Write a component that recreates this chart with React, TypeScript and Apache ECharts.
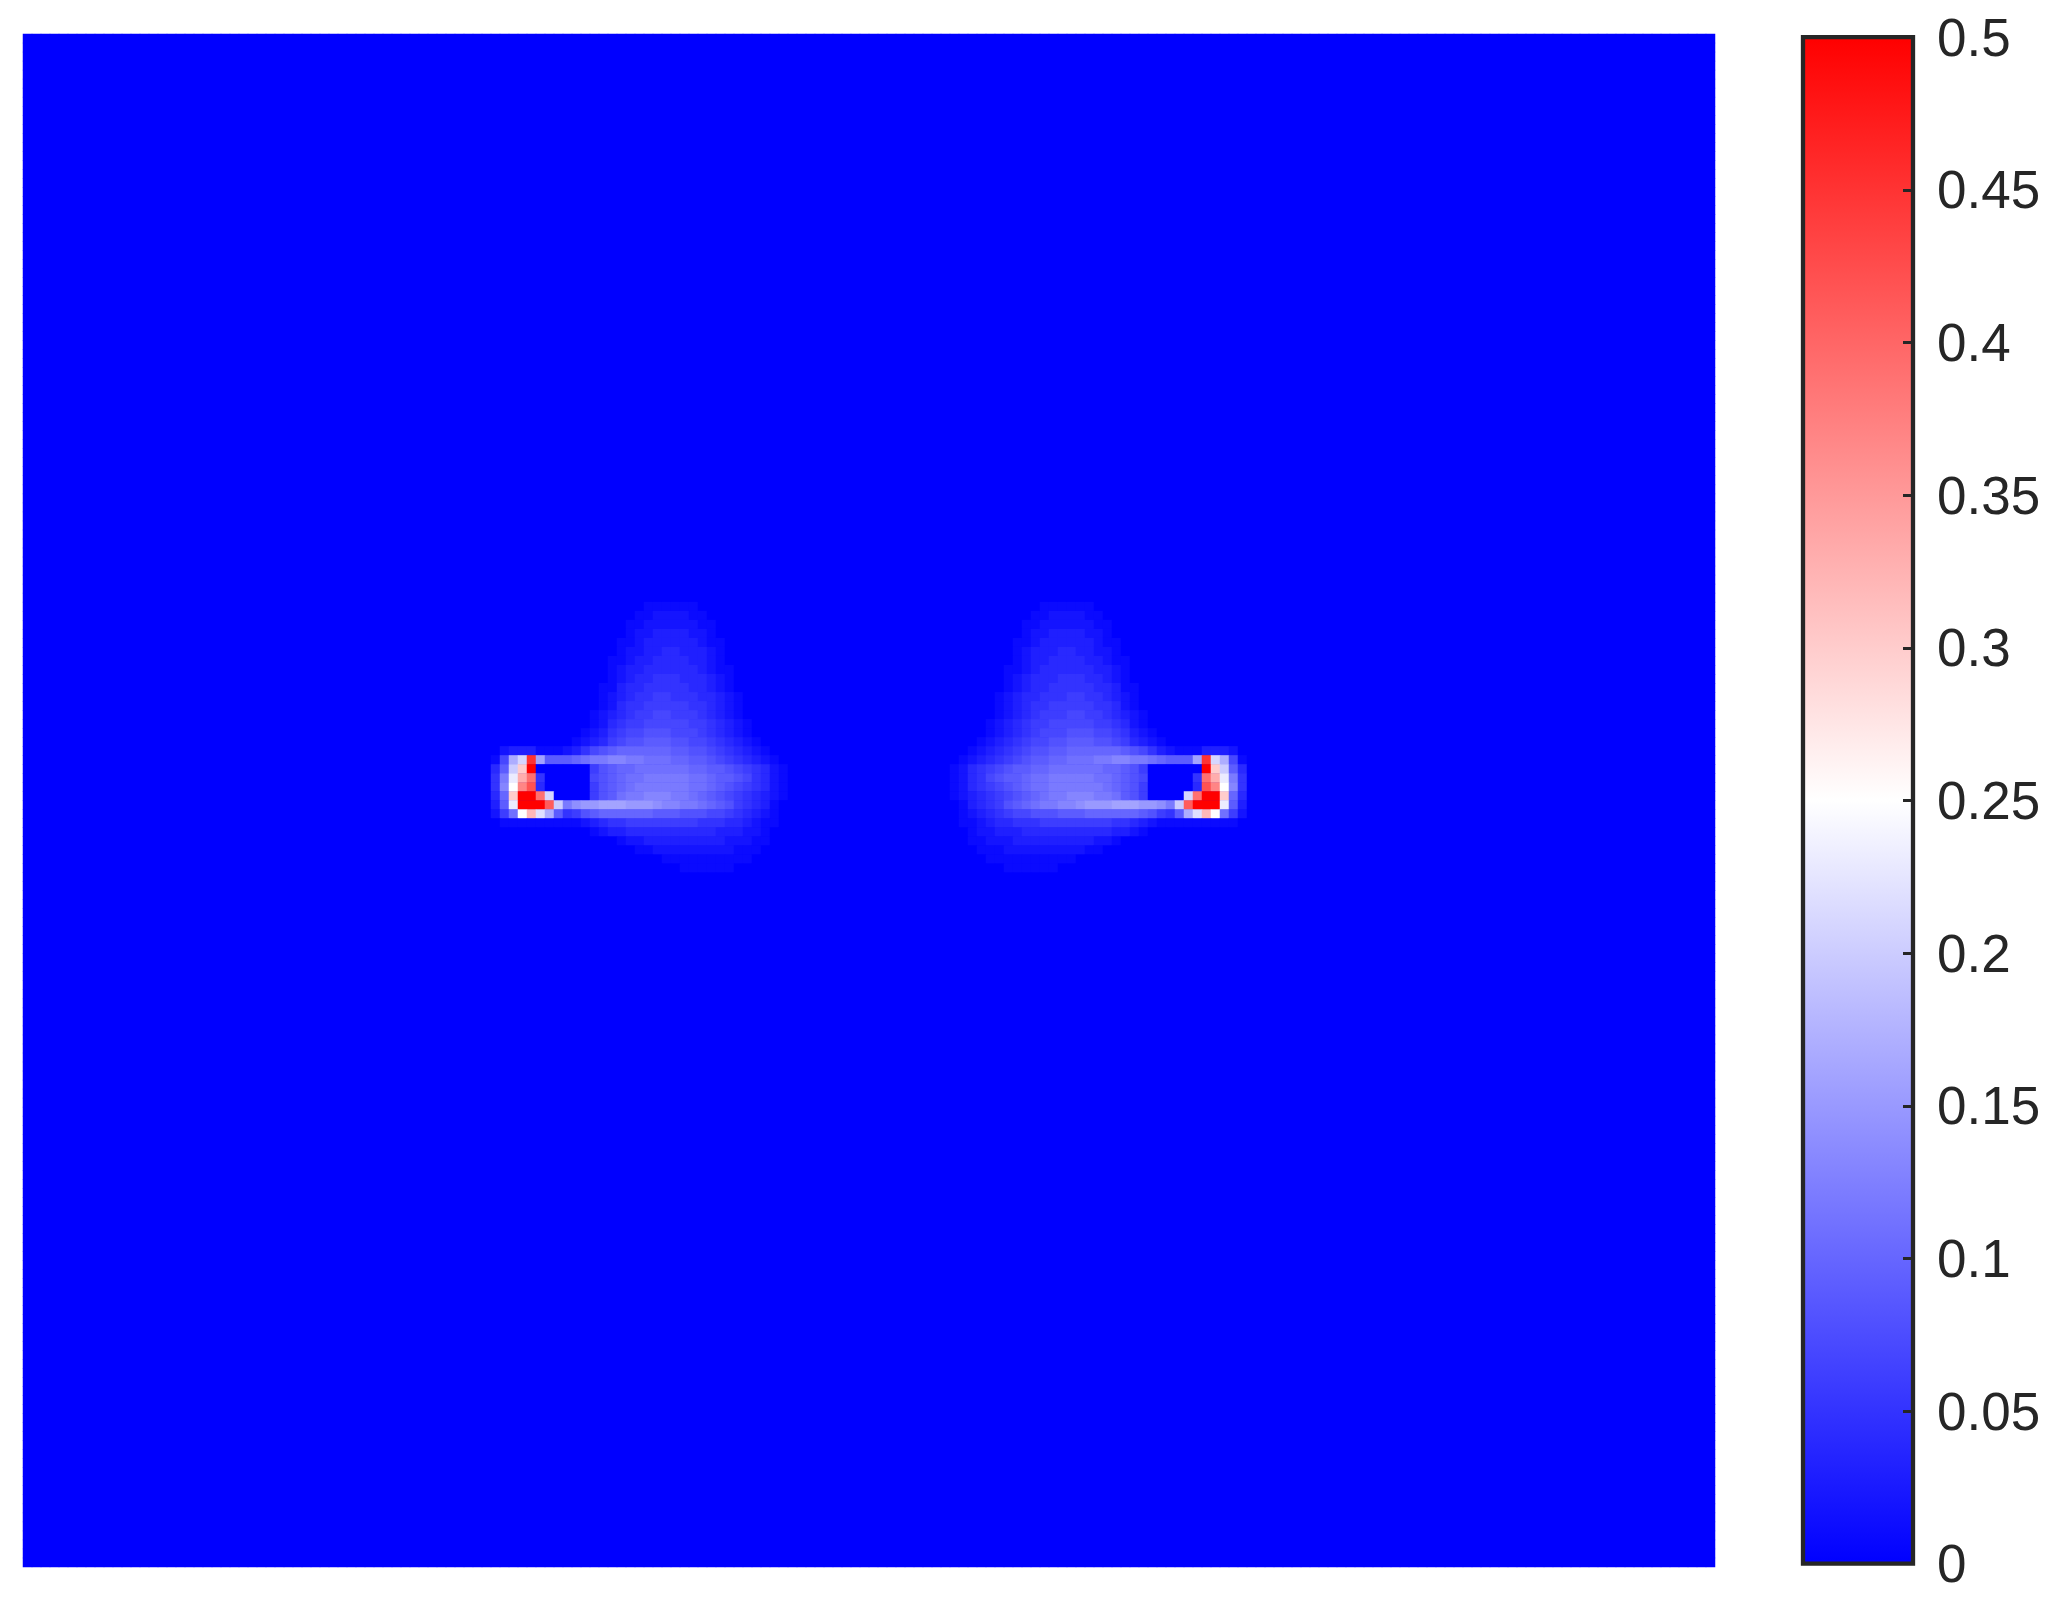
import React, { useEffect, useRef } from 'react';
import * as echarts from 'echarts';

// ---- field grid (columns x rows) ----
const gridCols = 188;
const gridRows = 170;

// non-background region, values in hundredths
const blobFirstRow = 63;
const leftBlobFirstCol = 52;
const rightBlobFirstCol = 101;

const leftBlob: number[][] = [
  [0,0,0,0,0,0,0,0,0,0,0,0,0,0,0,0,0,1,1,1,1,1,1,0,0,0,0,0,0,0,0,0,0,0,0],
  [0,0,0,0,0,0,0,0,0,0,0,0,0,0,0,0,1,1,2,2,2,2,1,1,0,0,0,0,0,0,0,0,0,0,0],
  [0,0,0,0,0,0,0,0,0,0,0,0,0,0,0,1,1,2,2,2,2,2,2,1,1,0,0,0,0,0,0,0,0,0,0],
  [0,0,0,0,0,0,0,0,0,0,0,0,0,0,0,1,2,2,3,3,3,3,2,2,1,0,0,0,0,0,0,0,0,0,0],
  [0,0,0,0,0,0,0,0,0,0,0,0,0,0,1,1,2,3,3,3,3,3,3,2,1,1,0,0,0,0,0,0,0,0,0],
  [0,0,0,0,0,0,0,0,0,0,0,0,0,0,1,2,2,3,3,4,4,3,3,3,2,1,0,0,0,0,0,0,0,0,0],
  [0,0,0,0,0,0,0,0,0,0,0,0,0,1,1,2,3,3,4,4,4,4,3,3,2,1,0,0,0,0,0,0,0,0,0],
  [0,0,0,0,0,0,0,0,0,0,0,0,0,1,2,3,3,4,4,4,4,4,4,3,2,1,1,0,0,0,0,0,0,0,0],
  [0,0,0,0,0,0,0,0,0,0,0,0,0,1,2,3,4,4,5,5,5,4,4,4,3,2,1,0,0,0,0,0,0,0,0],
  [0,0,0,0,0,0,0,0,0,0,0,0,1,1,3,4,4,5,5,5,5,5,4,4,3,2,1,0,0,0,0,0,0,0,0],
  [0,0,0,0,0,0,0,0,0,0,0,0,1,2,3,4,5,5,6,6,5,5,5,4,4,3,2,1,0,0,0,0,0,0,0],
  [0,0,0,0,0,0,0,0,0,0,0,0,1,2,4,5,5,6,6,6,6,6,5,5,4,3,2,1,0,0,0,0,0,0,0],
  [0,0,0,0,0,0,0,0,0,0,0,1,2,3,4,5,6,6,7,7,6,6,6,5,4,3,2,1,0,0,0,0,0,0,0],
  [0,0,0,0,0,0,0,0,0,0,0,1,2,4,5,6,6,7,7,7,7,7,6,6,5,4,3,2,1,0,0,0,0,0,0],
  [0,0,0,0,0,0,0,0,0,0,1,2,3,5,6,7,7,8,8,8,7,7,7,6,5,4,3,2,1,0,0,0,0,0,0],
  [0,0,0,0,0,0,0,0,0,1,2,3,4,6,7,8,8,9,9,9,8,8,7,7,6,5,4,3,2,1,0,0,0,0,0],
  [0,2,3,3,3,1,1,1,2,3,5,7,8,9,10,10,10,10,10,10,9,9,8,8,7,6,5,4,3,2,1,0,0,0,0],
  [1,7,17,21,45,16,9,9,9,10,11,12,12,13,13,12,12,11,11,11,10,10,9,9,8,7,6,5,4,3,2,1,0,0,0],
  [4,9,20,30,50,0,0,0,0,0,0,6,8,9,10,10,11,11,11,11,11,11,10,10,9,9,8,7,6,5,4,2,1,0,0],
  [5,12,23,33,39,5,0,0,0,0,0,7,8,9,10,11,11,12,12,12,12,12,11,11,10,9,9,8,7,5,4,2,1,0,0],
  [5,13,25,37,42,4,0,0,0,0,0,6,8,9,10,11,12,12,12,12,12,12,11,11,10,9,8,7,6,5,4,2,1,0,0],
  [4,10,30,50,50,39,21,0,0,0,0,6,8,9,11,12,12,13,13,13,12,12,11,10,9,8,7,6,5,4,3,2,1,0,0],
  [3,9,23,50,50,50,41,20,12,14,15,15,16,16,16,15,15,15,14,13,13,12,12,11,10,9,8,6,5,4,3,1,0,0,0],
  [2,6,11,25,32,22,17,9,5,6,8,9,10,10,10,10,10,10,9,9,9,8,8,8,7,7,6,5,4,3,2,1,0,0,0],
  [0,1,1,1,1,1,1,1,1,1,2,3,4,5,5,6,6,6,6,6,6,6,6,5,5,5,4,4,3,2,1,1,0,0,0],
  [0,0,0,0,0,0,0,0,0,0,0,1,2,3,3,4,4,4,4,4,4,4,4,4,4,3,3,3,2,2,1,0,0,0,0],
  [0,0,0,0,0,0,0,0,0,0,0,0,0,0,1,2,2,3,3,3,3,3,3,3,3,3,2,2,2,1,1,0,0,0,0],
  [0,0,0,0,0,0,0,0,0,0,0,0,0,0,0,0,1,1,2,2,2,2,2,2,2,2,2,1,1,1,0,0,0,0,0],
  [0,0,0,0,0,0,0,0,0,0,0,0,0,0,0,0,0,0,0,1,1,1,1,1,1,1,1,1,1,0,0,0,0,0,0],
  [0,0,0,0,0,0,0,0,0,0,0,0,0,0,0,0,0,0,0,0,0,1,1,1,1,1,1,0,0,0,0,0,0,0,0],
];

const rightBlob: number[][] = [
  [0,0,0,0,0,0,0,0,0,0,0,0,1,1,1,1,1,1,0,0,0,0,0,0,0,0,0,0,0,0,0,0,0,0,0],
  [0,0,0,0,0,0,0,0,0,0,0,1,1,2,2,2,2,1,1,0,0,0,0,0,0,0,0,0,0,0,0,0,0,0,0],
  [0,0,0,0,0,0,0,0,0,0,1,1,2,2,2,2,2,2,1,1,0,0,0,0,0,0,0,0,0,0,0,0,0,0,0],
  [0,0,0,0,0,0,0,0,0,0,1,2,2,3,3,3,3,2,2,1,0,0,0,0,0,0,0,0,0,0,0,0,0,0,0],
  [0,0,0,0,0,0,0,0,0,1,1,2,3,3,3,3,3,3,2,1,1,0,0,0,0,0,0,0,0,0,0,0,0,0,0],
  [0,0,0,0,0,0,0,0,0,1,2,3,3,3,4,4,3,3,2,2,1,0,0,0,0,0,0,0,0,0,0,0,0,0,0],
  [0,0,0,0,0,0,0,0,0,1,2,3,3,4,4,4,4,3,3,2,1,1,0,0,0,0,0,0,0,0,0,0,0,0,0],
  [0,0,0,0,0,0,0,0,1,1,2,3,4,4,4,4,4,4,3,3,2,1,0,0,0,0,0,0,0,0,0,0,0,0,0],
  [0,0,0,0,0,0,0,0,1,2,3,4,4,4,5,5,5,4,4,3,2,1,0,0,0,0,0,0,0,0,0,0,0,0,0],
  [0,0,0,0,0,0,0,0,1,2,3,4,4,5,5,5,5,5,4,4,3,1,1,0,0,0,0,0,0,0,0,0,0,0,0],
  [0,0,0,0,0,0,0,1,2,3,4,4,5,5,5,6,6,5,5,4,3,2,1,0,0,0,0,0,0,0,0,0,0,0,0],
  [0,0,0,0,0,0,0,1,2,3,4,5,5,6,6,6,6,6,5,5,4,2,1,0,0,0,0,0,0,0,0,0,0,0,0],
  [0,0,0,0,0,0,0,1,2,3,4,5,6,6,6,7,7,6,6,5,4,3,2,1,0,0,0,0,0,0,0,0,0,0,0],
  [0,0,0,0,0,0,1,2,3,4,5,6,6,7,7,7,7,7,6,6,5,4,2,1,0,0,0,0,0,0,0,0,0,0,0],
  [0,0,0,0,0,0,1,2,3,4,5,6,7,7,7,8,8,8,7,7,6,5,3,2,1,0,0,0,0,0,0,0,0,0,0],
  [0,0,0,0,0,1,2,3,4,5,6,7,7,8,8,9,9,9,8,8,7,6,4,3,2,1,0,0,0,0,0,0,0,0,0],
  [0,0,0,0,1,2,3,4,5,6,7,8,8,9,9,10,10,10,10,10,10,9,8,7,5,3,2,1,1,1,3,3,3,2,0],
  [0,0,0,1,2,3,4,5,6,7,8,9,9,10,10,11,11,11,12,12,13,13,12,12,11,10,9,9,9,16,45,21,17,7,1],
  [0,0,1,2,4,5,6,7,8,9,9,10,10,11,11,11,11,11,11,10,10,9,8,6,0,0,0,0,0,0,50,30,20,9,4],
  [0,0,1,2,4,5,7,8,9,9,10,11,11,12,12,12,12,12,11,11,10,9,8,7,0,0,0,0,0,5,39,33,23,12,5],
  [0,0,1,2,4,5,6,7,8,9,10,11,11,12,12,12,12,12,12,11,10,9,8,6,0,0,0,0,0,4,42,37,25,13,5],
  [0,0,1,2,3,4,5,6,7,8,9,10,11,12,12,13,13,13,12,12,11,9,8,6,0,0,0,0,21,39,50,50,30,10,4],
  [0,0,0,1,3,4,5,6,8,9,10,11,12,12,13,13,14,15,15,15,16,16,16,15,15,14,12,20,41,50,50,50,23,9,3],
  [0,0,0,1,2,3,4,5,6,7,7,8,8,8,9,9,9,10,10,10,10,10,10,9,8,6,5,9,17,22,32,25,11,6,2],
  [0,0,0,1,1,2,3,4,4,5,5,5,6,6,6,6,6,6,6,6,5,5,4,3,2,1,1,1,1,1,1,1,1,1,0],
  [0,0,0,0,1,2,2,3,3,3,4,4,4,4,4,4,4,4,4,4,3,3,2,1,0,0,0,0,0,0,0,0,0,0,0],
  [0,0,0,0,1,1,2,2,2,3,3,3,3,3,3,3,3,3,2,2,1,0,0,0,0,0,0,0,0,0,0,0,0,0,0],
  [0,0,0,0,0,1,1,1,2,2,2,2,2,2,2,2,2,1,1,0,0,0,0,0,0,0,0,0,0,0,0,0,0,0,0],
  [0,0,0,0,0,0,1,1,1,1,1,1,1,1,1,1,0,0,0,0,0,0,0,0,0,0,0,0,0,0,0,0,0,0,0],
  [0,0,0,0,0,0,0,0,1,1,1,1,1,1,0,0,0,0,0,0,0,0,0,0,0,0,0,0,0,0,0,0,0,0,0],
];

// background value of the field
const backgroundValue = 0;

// ---- colour scale ----
const colorMin = 0;
const colorMax = 0.5;
const colorStep = 0.05;
const colorbarTicks = ['0', '0.05', '0.1', '0.15', '0.2', '0.25', '0.3', '0.35', '0.4', '0.45', '0.5'];
const palette = ['#0000ff', '#ffffff', '#ff0000'];

function buildCells(): [number, number, number][] {
  const field: number[][] = [];
  for (let r = 0; r < gridRows; r++) field.push(new Array(gridCols).fill(backgroundValue));
  const place = (blob: number[][], col0: number) => {
    blob.forEach((row, i) => {
      row.forEach((v, j) => {
        const r = blobFirstRow + i;
        const c = col0 + j;
        if (r < gridRows && c < gridCols) field[r][c] = v / 100;
      });
    });
  };
  place(leftBlob, leftBlobFirstCol);
  place(rightBlob, rightBlobFirstCol);
  const out: [number, number, number][] = [];
  for (let r = 0; r < gridRows; r++) {
    for (let c = 0; c < gridCols; c++) out.push([c, r, field[r][c]]);
  }
  return out;
}

export default function App() {
  const ref = useRef<HTMLDivElement>(null);
  useEffect(() => {
    if (!ref.current) return;
    const chart = echarts.init(ref.current, undefined, { renderer: 'svg' });
    const colIdx = Array.from({ length: gridCols }, (_, i) => String(i));
    const rowIdx = Array.from({ length: gridRows }, (_, i) => String(i));
    const textColor = '#262626';
    chart.setOption({
      animation: false,
      backgroundColor: '#ffffff',
      grid: [
        { left: 23, top: 34, width: 1692, height: 1533, show: true, backgroundColor: palette[0], borderWidth: 0 },
        { left: 1803, top: 37.2, width: 110, height: 1526.5, show: true, z: 10, backgroundColor: 'rgba(0,0,0,0)', borderColor: textColor, borderWidth: 4.3 },
      ],
      xAxis: [
        { type: 'category', gridIndex: 0, data: colIdx, show: false },
        { type: 'category', gridIndex: 1, data: ['cb'], show: false },
      ],
      yAxis: [
        { type: 'category', gridIndex: 0, data: rowIdx, inverse: true, show: false },
        {
          type: 'value',
          gridIndex: 1,
          z: 11,
          min: colorMin,
          max: colorMax,
          interval: colorStep,
          position: 'right',
          axisLine: { show: false },
          axisTick: { show: true, inside: true, length: 10, lineStyle: { color: textColor, width: 3 } },
          splitLine: { show: false },
          axisLabel: {
            color: textColor,
            fontSize: 53,
            fontFamily: '"Liberation Sans", Arial, Helvetica, sans-serif',
            margin: 24,
            formatter: (v: number) => colorbarTicks[Math.round(v / colorStep)] ?? '',
          },
        },
      ],
      visualMap: {
        type: 'continuous',
        show: false,
        min: colorMin,
        max: colorMax,
        seriesIndex: 0,
        dimension: 2,
        inRange: { color: palette },
      },
      series: [
        {
          type: 'heatmap',
          xAxisIndex: 0,
          yAxisIndex: 0,
          data: buildCells(),
          progressive: 0,
          silent: true,
          emphasis: { disabled: true },
          itemStyle: { borderWidth: 0 },
        },
        {
          type: 'bar',
          xAxisIndex: 1,
          yAxisIndex: 1,
          z: 1,
          data: [colorMax],
          barWidth: '100%',
          silent: true,
          itemStyle: {
            color: new echarts.graphic.LinearGradient(0, 0, 0, 1, [
              { offset: 0, color: palette[2] },
              { offset: 0.5, color: palette[1] },
              { offset: 1, color: palette[0] },
            ]),
          },
        },
      ],
    });
    return () => chart.dispose();
  }, []);
  return (
    <div
      ref={ref}
      style={{ position: 'absolute', left: 0, top: 0, width: 2063, height: 1612 }}
    />
  );
}
